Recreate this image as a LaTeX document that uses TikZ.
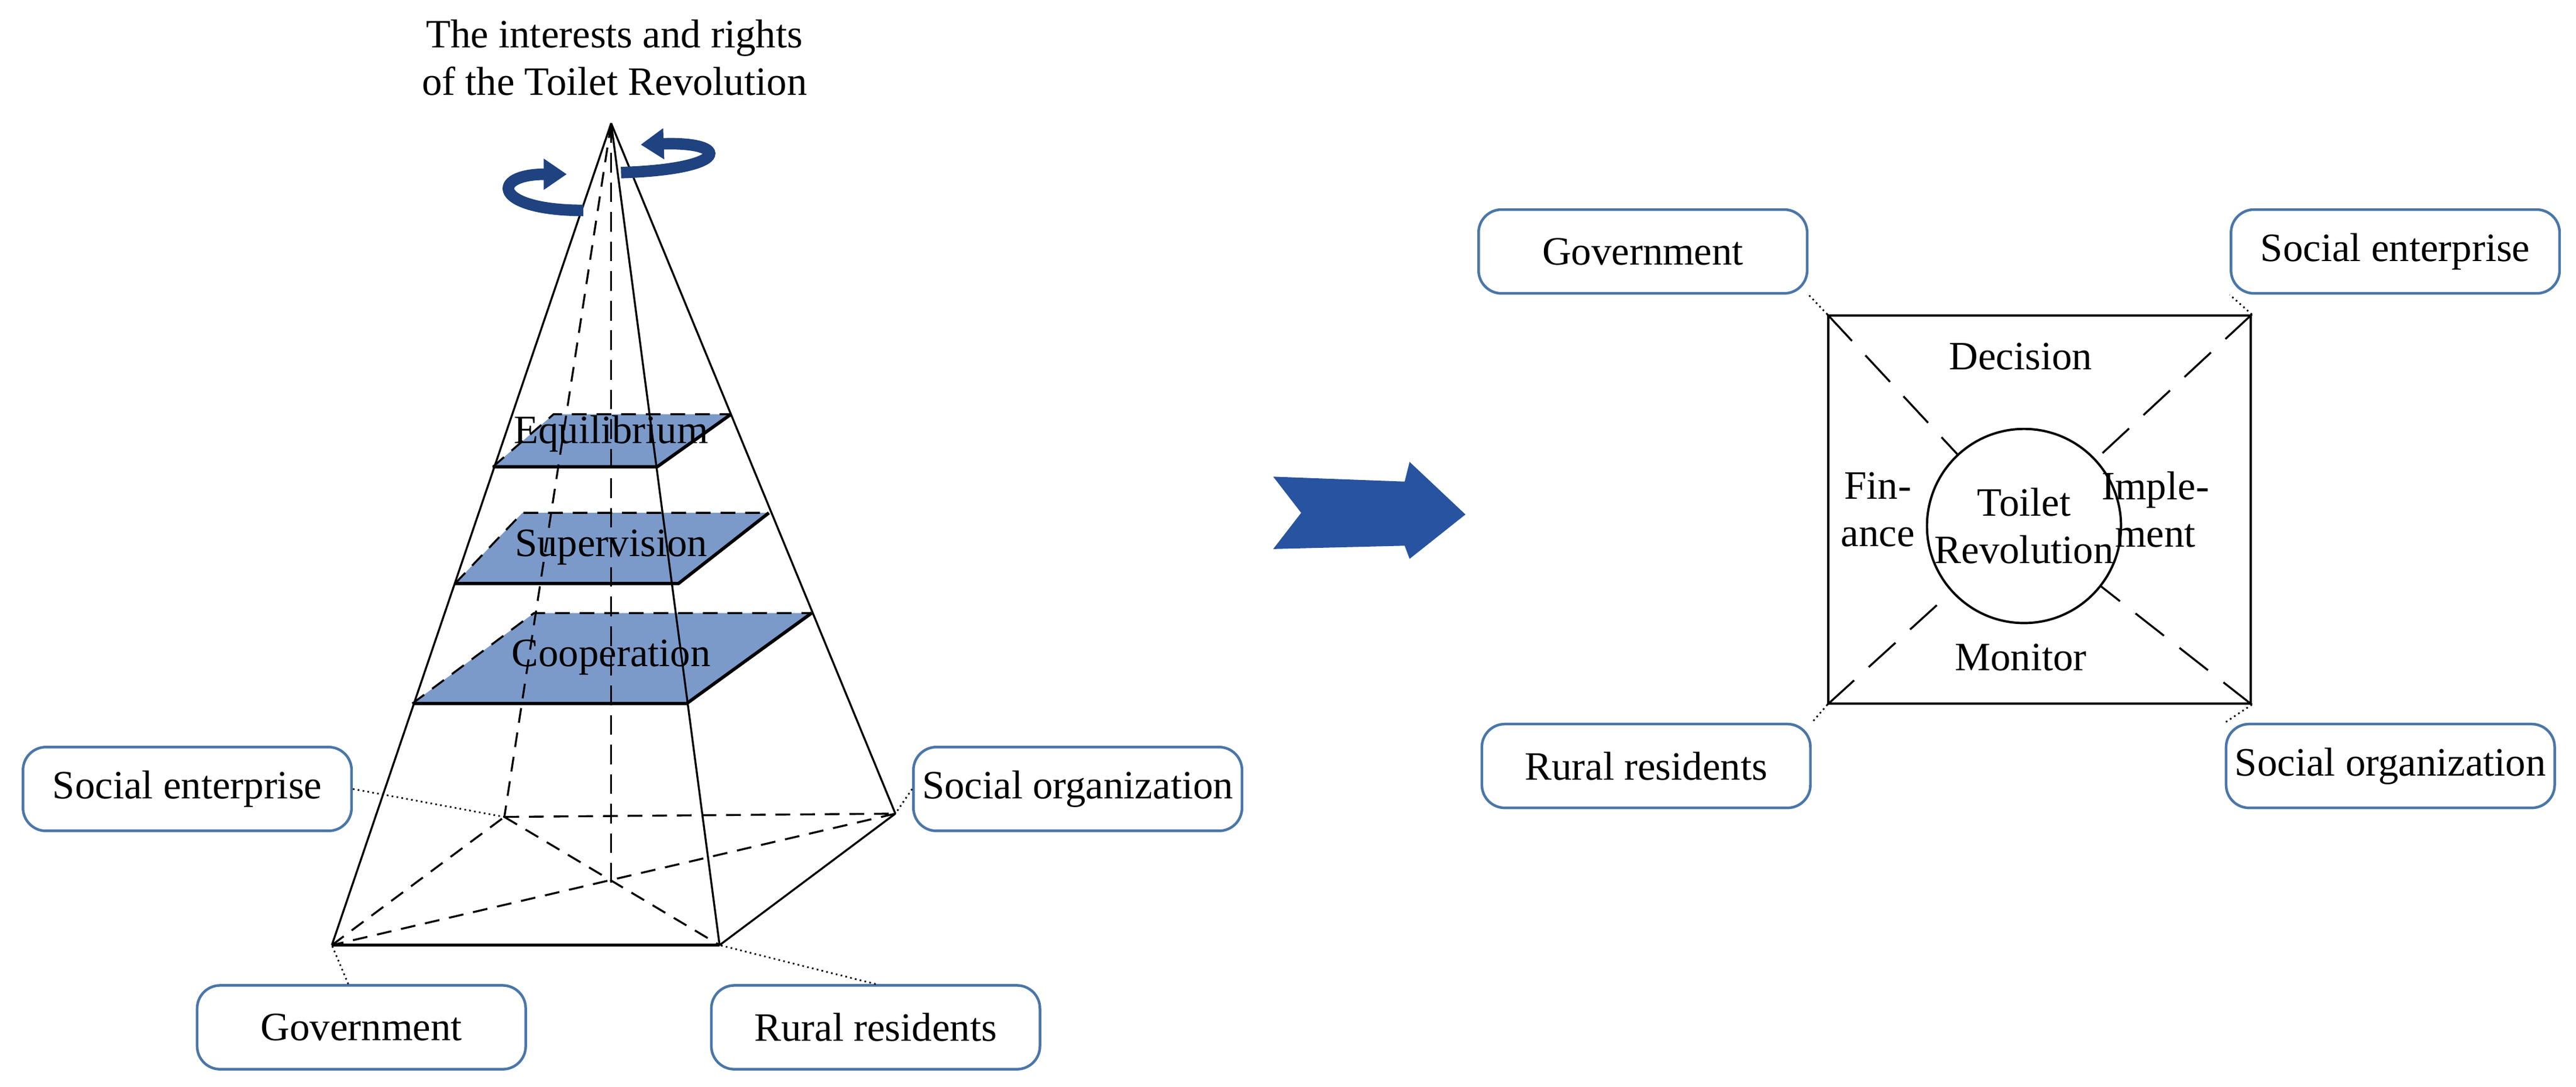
\documentclass[tikz,border=0pt]{standalone}
\usepackage{fontspec}
\setmainfont{Liberation Serif}
\usetikzlibrary{arrows.meta}
\definecolor{lay}{HTML}{7B9AC9}
\definecolor{bx}{HTML}{4A76A8}
\definecolor{arr}{HTML}{2753A0}
\begin{document}
\begin{tikzpicture}[x=1pt,y=-1pt,
  lbl/.style={font=\fontsize{24.5}{29}\selectfont},
  box/.style={draw=bx,line width=1.6pt,rounded corners=14pt,minimum width=200pt,minimum height=51pt,font=\fontsize{24.5}{29}\selectfont,inner sep=0pt},
  edge/.style={line width=1.2pt},
  hid/.style={line width=1.2pt,dash pattern=on 9pt off 6pt},
  dot/.style={line width=1pt,dotted},
  layer/.style={fill=lay}]
\useasboundingbox (0,0) rectangle (1568,661);
% title
\node[lbl,align=center] (title) at (374,35) {The interests and rights\\of the Toilet Revolution};
% pyramid points
\coordinate (A) at (372,75);
\coordinate (FL) at (202,575);
\coordinate (FR) at (438,575);
\coordinate (BR) at (545,495);
\coordinate (BL) at (307,497);
\coordinate (C) at (372,537);
% layers
\foreach \yf/\xa/\xb/\yb/\xc/\xd/\t/\n in {428/251/418/373/325/494/Cooperation/l1,355/277/413/312/318/468/Supervision/l2,284/300/400/252/337/445/Equilibrium/l3}{
  \fill[layer] (\xa,\yf) -- (\xb,\yf) -- (\xd,\yb) -- (\xc,\yb) -- cycle;
  \draw[hid] (\xa,\yf) -- (\xc,\yb) -- (\xd,\yb);
  \draw[line width=2pt] (\xa,\yf) -- (\xb,\yf) -- (\xd,\yb);
}
% pyramid edges
\draw[edge] (A) -- (FL);
\draw[edge] (A) -- (FR);
\draw[edge] (A) -- (BR);
\draw[hid] (A) -- (BL);
\draw[hid,dash pattern=on 12pt off 6pt] (A) -- (C);
\draw[line width=2pt] (FL) -- (FR);
\draw[edge] (FR) -- (BR);
\draw[hid] (BL) -- (BR);
\draw[hid] (FL) -- (BL);
\draw[hid] (BL) -- (FR);
\draw[hid] (BR) -- (FL);
\draw[edge] (251,428) -- (418,428);
\draw[edge] (277,355) -- (413,355);
\draw[edge] (300,284) -- (400,284);
% layer labels
\node[lbl] (eq) at (372,264) {Equilibrium};
\node[lbl] (su) at (372,333) {Supervision};
\node[lbl] (co) at (372,400) {Cooperation};
% rotation arrows
\draw[arr!80!black,line width=7pt,-{Triangle[length=14pt,width=18pt]}] (355,128) .. controls (300,128) and (298,106) .. (345,106);
\draw[arr!80!black,line width=7pt,-{Triangle[length=14pt,width=18pt]}] (378,105) .. controls (445,103) and (445,86) .. (390,88);
% boxes
\node[box] (se) at (114,480) {Social enterprise};
\node[box] (so) at (656,480) {Social organization};
\node[box] (gv) at (220,625) {Government};
\node[box] (rr) at (533,625) {Rural residents};
\draw[dot] (se.east) -- (BL);
\draw[dot] (so.west) -- (BR);
\draw[dot] (gv.north) ++(-8,0) -- (FL);
\draw[dot] (rr.north) -- (FR);
% big arrow
\fill[arr] (775,290) -- (855,293) -- (858,281) -- (892,313) -- (858,340) -- (855,332) -- (775,334) -- (792,312) -- cycle;
% right diagram
\node[draw,line width=1.4pt,minimum width=257pt,minimum height=236pt,inner sep=0pt] (sq) at (1241.5,310) {};
\node[draw,circle,line width=1.4pt,minimum size=116pt,inner sep=0pt,align=center,font=\fontsize{24.5}{29}\selectfont] (ci) at (1232,320) {Toilet\\Revolution};
\draw[hid,dash pattern=on 22pt off 12pt] (sq.north west) -- (ci);
\draw[hid,dash pattern=on 22pt off 12pt] (sq.north east) -- (ci);
\draw[hid,dash pattern=on 22pt off 12pt] (sq.south west) -- (ci);
\draw[hid,dash pattern=on 22pt off 12pt] (sq.south east) -- (ci);
\node[lbl] (dec) at (1230,217) {Decision};
\node[lbl] (mon) at (1230,400) {Monitor};
\node[lbl,align=center] (fin) at (1143,310) {Fin-\\ance};
\node[lbl,align=center] (imp) at (1312,310) {Imple-\\ment};
\node[box] (g2) at (1000,153) {Government};
\node[box] (s2) at (1458,153) {Social enterprise};
\node[box] (r2) at (1002,466) {Rural residents};
\node[box] (o2) at (1455,466) {Social organization};
\draw[dot] (sq.north west) -- (g2.south east);
\draw[dot] (sq.north east) -- (s2.south west);
\draw[dot] (sq.south west) -- (r2.north east);
\draw[dot] (sq.south east) -- (o2.north west);
\end{tikzpicture}
\end{document}
